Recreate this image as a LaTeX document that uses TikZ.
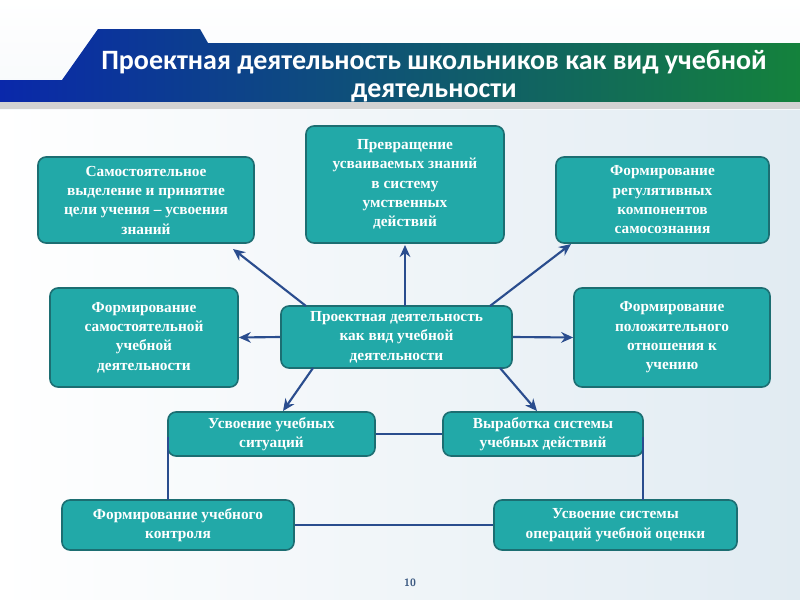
\documentclass[tikz,border=0pt]{standalone}
\usepackage{fontspec}
\setmainfont{Liberation Serif}
\newfontfamily\titlefont{Carlito}
\usetikzlibrary{arrows.meta}
\definecolor{boxfill}{HTML}{22A9A8}
\definecolor{boxedge}{HTML}{1C6E72}
\definecolor{arr}{HTML}{2A4D8E}
\begin{document}
\begin{tikzpicture}[x=0.75pt,y=-0.75pt,
  bx/.style={draw=boxedge,line width=1.2pt,fill=boxfill,rounded corners=6pt,text=white,
    font=\bfseries\fontsize{11.5}{14.5}\selectfont,align=center,inner sep=1pt},
  arw/.style={draw=arr,line width=1.6pt,-{Stealth[length=9pt,width=8pt]}},
  ln/.style={draw=arr,line width=1.6pt}]
\shade[top color=white,bottom color={rgb,255:red,205;green,220;blue,232}] (0,0) rectangle (800,600);
\shade[left color=white,right color={rgb,255:red,225;green,235;blue,242}] (0,110) rectangle (800,600);
\useasboundingbox (0,0) rectangle (800,600);
% banner
\fill[black!80] (0,80) rectangle (800,102);
\shade[left color={rgb,255:red,10;green,40;blue,170},right color={rgb,255:red,20;green,130;blue,60}] (62,80) -- (98,29) -- (200,29) -- (208,43) -- (800,43) -- (800,102) -- (0,102) -- (0,80) -- cycle;
\fill[gray!35] (0,102) rectangle (800,109);
\node[text=white,font=\titlefont\bfseries\fontsize{21}{21}\selectfont,align=center] (title) at (434,76) {Проектная деятельность школьников как вид учебной\\деятельности};
% boxes
\node[bx,minimum width=162pt,minimum height=64.5pt] (tl) at (146,200) {Самостоятельное\\выделение и принятие\\цели учения – усвоения\\знаний};
\node[bx,minimum width=148.5pt,minimum height=87.75pt] (tc) at (405,184.5) {Превращение\\усваиваемых знаний\\в систему\\умственных\\действий};
\node[bx,minimum width=159.75pt,minimum height=64.5pt] (tr) at (662.5,200) {Формирование\\регулятивных\\компонентов\\самосознания};
\node[bx,minimum width=141pt,minimum height=74.25pt] (ml) at (144,337.5) {Формирование\\самостоятельной\\учебной\\деятельности};
\node[bx,minimum width=173.25pt,minimum height=46.5pt] (c) at (396.5,337) {Проектная деятельность\\как вид учебной\\деятельности};
\node[bx,minimum width=147pt,minimum height=74.25pt] (mr) at (672,337.5) {Формирование\\положительного\\отношения к\\учению};
\node[bx,minimum width=155.25pt,minimum height=33pt] (r3l) at (271.5,434) {Усвоение учебных\\ситуаций};
\node[bx,minimum width=150pt,minimum height=33pt] (r3r) at (543,434) {Выработка системы\\учебных действий};
\node[bx,minimum width=174pt,minimum height=37.5pt] (bl) at (178,525) {Формирование учебного\\контроля};
\node[bx,minimum width=182.25pt,minimum height=37.5pt] (br) at (615.5,525) {Усвоение системы\\операций учебной оценки};
% arrows
\draw[arw] (306,306) -- (233,249);
\draw[arw] (405,306) -- (405,245);
\draw[arw] (490,306) -- (571,244);
\draw[arw] (c.west) -- (ml.east);
\draw[arw] (c.east) -- (mr.west);
\draw[arw] (313,368) -- (283,411);
\draw[arw] (500,368) -- (537,411);
% lines
\draw[ln] (r3l.east) -- (r3r.west);
\draw[ln] (168,437) -- (168,500);
\draw[ln] (643,437) -- (643,500);
\draw[ln] (bl.east) -- (br.west);
\node[text={rgb,255:red,60;green,90;blue,130},font=\sffamily\bfseries\fontsize{8}{9}\selectfont] (pg) at (410,583) {10};
\end{tikzpicture}
\end{document}
